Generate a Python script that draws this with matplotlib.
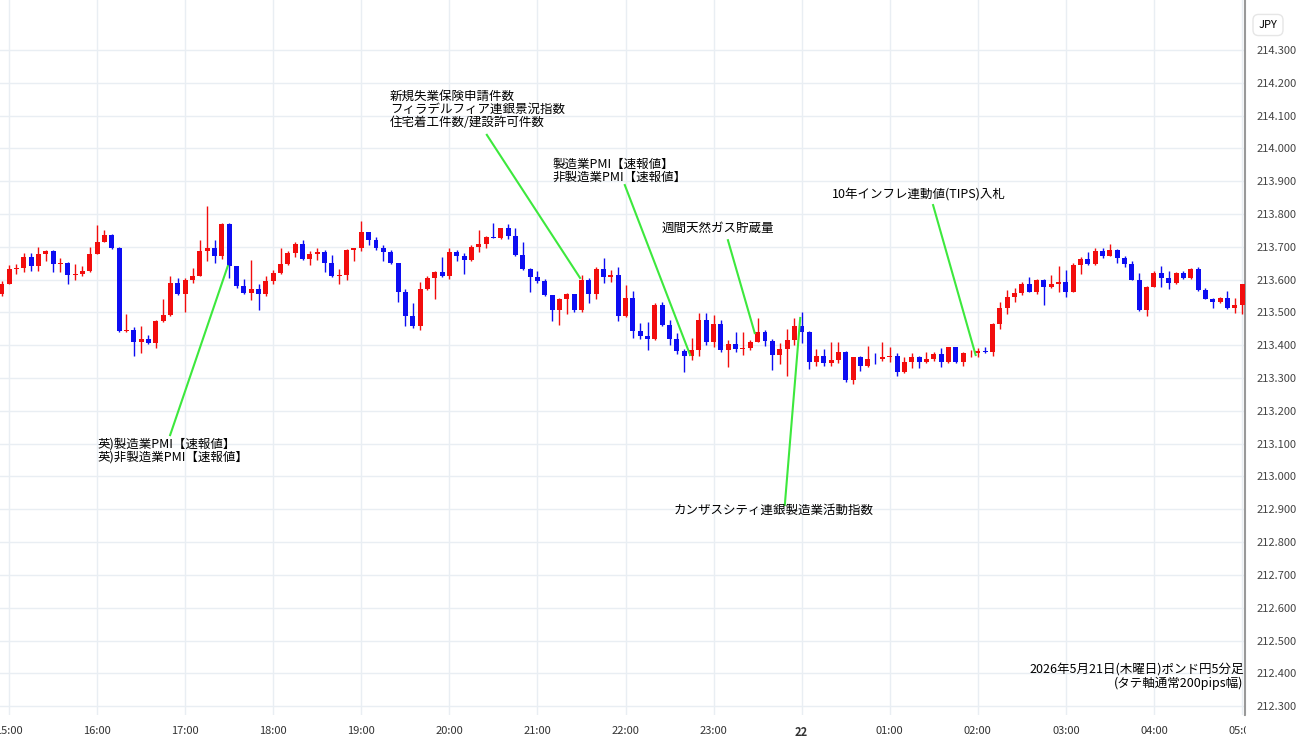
import matplotlib.pyplot as plt
import matplotlib.patches as mpatches
import numpy as np

plt.rcParams['font.family'] = ['Noto Sans CJK JP', 'DejaVu Sans']

# GBP/JPY 5-minute candles, first candle = 14:55
first_open = 213.557
closes = [
    213.588, 213.632, 213.636, 213.670, 213.642, 213.678, 213.687, 213.646, 213.652, 213.615,
    213.618, 213.626, 213.678, 213.715, 213.736, 213.697, 213.443, 213.447, 213.409, 213.420,
    213.407, 213.474, 213.493, 213.590, 213.557, 213.598, 213.611, 213.687, 213.697, 213.672,
    213.770, 213.640, 213.580, 213.560, 213.570, 213.557, 213.595, 213.621, 213.648, 213.680,
    213.707, 213.662, 213.677, 213.685, 213.652, 213.611, 213.615, 213.690, 213.695, 213.744,
    213.720, 213.695, 213.685, 213.649, 213.562, 213.490, 213.458, 213.572, 213.605, 213.623,
    213.611, 213.685, 213.672, 213.659, 213.700, 213.707, 213.731, 213.727, 213.757, 213.734,
    213.675, 213.632, 213.608, 213.596, 213.552, 213.506, 213.542, 213.555, 213.506, 213.600,
    213.555, 213.633, 213.608, 213.615, 213.490, 213.543, 213.443, 213.427, 213.418, 213.523,
    213.462, 213.420, 213.381, 213.367, 213.386, 213.478, 213.411, 213.465, 213.386, 213.403,
    213.388, 213.390, 213.411, 213.440, 213.413, 213.370, 213.388, 213.416, 213.457, 213.440,
    213.350, 213.368, 213.345, 213.355, 213.378, 213.294, 213.363, 213.338, 213.358, 213.357,
    213.365, 213.366, 213.318, 213.349, 213.363, 213.350, 213.358, 213.372, 213.350, 213.393,
    213.348, 213.375, 213.376, 213.383, 213.378, 213.465, 213.512, 213.548, 213.560, 213.585,
    213.563, 213.598, 213.578, 213.585, 213.593, 213.561, 213.644, 213.662, 213.646, 213.687,
    213.673, 213.689, 213.667, 213.646, 213.600, 213.507, 213.578, 213.621, 213.606, 213.590,
    213.621, 213.604, 213.631, 213.568, 213.542, 213.533, 213.543, 213.512, 213.522, 213.585,
]
highs = [
    213.595, 213.643, 213.648, 213.682, 213.681, 213.698, 213.690, 213.690, 213.665, 213.655,
    213.648, 213.641, 213.698, 213.766, 213.751, 213.738, 213.700, 213.496, 213.455, 213.457,
    213.430, 213.476, 213.542, 213.610, 213.604, 213.604, 213.635, 213.720, 213.823, 213.720,
    213.772, 213.772, 213.642, 213.602, 213.661, 213.585, 213.612, 213.628, 213.697, 213.687,
    213.713, 213.722, 213.687, 213.697, 213.690, 213.676, 213.633, 213.692, 213.697, 213.779,
    213.746, 213.730, 213.705, 213.690, 213.650, 213.572, 213.528, 213.593, 213.610, 213.625,
    213.670, 213.697, 213.690, 213.681, 213.705, 213.751, 213.734, 213.772, 213.758, 213.768,
    213.757, 213.716, 213.634, 213.625, 213.603, 213.554, 213.545, 213.560, 213.557, 213.613,
    213.604, 213.638, 213.666, 213.628, 213.638, 213.583, 213.566, 213.468, 213.472, 213.530,
    213.531, 213.477, 213.437, 213.389, 213.423, 213.498, 213.498, 213.493, 213.478, 213.416,
    213.440, 213.440, 213.416, 213.483, 213.447, 213.419, 213.406, 213.450, 213.483, 213.501,
    213.443, 213.389, 213.389, 213.409, 213.409, 213.381, 213.365, 213.368, 213.399, 213.375,
    213.409, 213.393, 213.375, 213.365, 213.375, 213.368, 213.378, 213.378, 213.391, 213.396,
    213.396, 213.378, 213.386, 213.391, 213.396, 213.469, 213.533, 213.567, 213.573, 213.594,
    213.609, 213.601, 213.601, 213.614, 213.642, 213.629, 213.652, 213.670, 213.683, 213.697,
    213.695, 213.707, 213.693, 213.673, 213.656, 213.619, 213.580, 213.626, 213.641, 213.627,
    213.624, 213.627, 213.634, 213.637, 213.573, 213.545, 213.548, 213.566, 213.545, 213.588,
]
lows = [
    213.550, 213.585, 213.617, 213.623, 213.626, 213.626, 213.657, 213.623, 213.623, 213.585,
    213.600, 213.610, 213.624, 213.677, 213.713, 213.693, 213.441, 213.441, 213.366, 213.375,
    213.404, 213.391, 213.472, 213.490, 213.552, 213.502, 213.589, 213.610, 213.657, 213.649,
    213.662, 213.604, 213.573, 213.555, 213.537, 213.506, 213.550, 213.585, 213.618, 213.645,
    213.670, 213.660, 213.645, 213.660, 213.623, 213.608, 213.585, 213.598, 213.657, 213.688,
    213.704, 213.690, 213.657, 213.647, 213.533, 213.459, 213.452, 213.445, 213.568, 213.540,
    213.608, 213.602, 213.657, 213.618, 213.657, 213.684, 213.695, 213.726, 213.724, 213.724,
    213.673, 213.630, 213.561, 213.590, 213.550, 213.475, 213.462, 213.494, 213.500, 213.500,
    213.528, 213.540, 213.589, 213.594, 213.475, 213.485, 213.422, 213.420, 213.384, 213.415,
    213.460, 213.401, 213.373, 213.317, 213.355, 213.368, 213.401, 213.396, 213.380, 213.335,
    213.378, 213.370, 213.386, 213.409, 213.399, 213.324, 213.342, 213.307, 213.401, 213.406,
    213.328, 213.337, 213.337, 213.337, 213.347, 213.288, 213.283, 213.322, 213.335, 213.342,
    213.353, 213.350, 213.306, 213.314, 213.332, 213.329, 213.345, 213.352, 213.335, 213.347,
    213.345, 213.337, 213.365, 213.365, 213.375, 213.368, 213.448, 213.495, 213.533, 213.552,
    213.561, 213.555, 213.524, 213.574, 213.561, 213.548, 213.561, 213.616, 213.645, 213.643,
    213.667, 213.671, 213.650, 213.639, 213.600, 213.505, 213.489, 213.576, 213.576, 213.572,
    213.588, 213.602, 213.602, 213.566, 213.540, 213.513, 213.530, 213.510, 213.497, 213.496,
]
opens = [first_open] + closes[:-1]

hour_labels = ["15:00", "16:00", "17:00", "18:00", "19:00", "20:00", "21:00", "22:00",
               "23:00", "22", "01:00", "02:00", "03:00", "04:00", "05:00"]
y_ticks = [round(212.3 + 0.1 * i, 1) for i in range(21)]

# events: text, text anchor (candle index, price), line start, line end
events = [
    ("英)製造業PMI【速報値】\n英)非製造業PMI【速報値】", (13.1, 213.12), (22.95, 213.126), (30.8, 213.641)),
    ("新規失業保険申請件数\nフィラデルフィア連銀景況指数\n住宅着工件数/建設許可件数", (52.9, 214.178), (66.1, 214.041), (78.8, 213.605)),
    ("製造業PMI【速報値】\n非製造業PMI【速報値】", (75.1, 213.971), (84.9, 213.888), (93.8, 213.37)),
    ("週間天然ガス貯蔵量", (89.96, 213.776), (98.95, 213.72), (102.6, 213.437)),
    ("カンザスシティ連銀製造業活動指数", (91.5, 212.917), (106.7, 212.913), (108.8, 213.483)),
    ("10年インフレ連動値(TIPS)入札", (113.1, 213.879), (126.9, 213.827), (132.7, 213.37)),
]

fig = plt.figure(figsize=(13, 7.45), dpi=100)
ax = fig.add_axes([0, 30 / 745, 1245 / 1300, 715 / 745])

o = np.array(opens)
c = np.array(closes)
x = np.arange(len(c))
up = c >= o
colors = np.where(up, '#f20d0d', '#0d0df2')
ax.vlines(x, lows, highs, colors=colors, lw=1, zorder=2)
body = np.maximum(np.abs(c - o), 0.002)
ax.bar(x, body, bottom=np.minimum(o, c), width=0.68, color=colors, zorder=3)

ax.set_xlim(-0.23, 169.4)
ax.set_ylim(212.273, 214.452)

hour_pos = [1 + 12 * i for i in range(len(hour_labels))]
ax.set_xticks(hour_pos)
ax.set_xticklabels(hour_labels, fontsize=8, color='#333333')
for lbl in ax.get_xticklabels():
    if lbl.get_text() == "22":
        lbl.set_fontweight('bold')
ax.yaxis.tick_right()
ax.set_yticks(y_ticks)
ax.set_yticklabels([f"{v:.3f}" for v in y_ticks], fontsize=8, color='#444444')
ax.tick_params(length=0, pad=8)
ax.grid(True, color='#e9eef3', lw=1, zorder=0)
for s in ['top', 'left', 'bottom']:
    ax.spines[s].set_visible(False)
ax.spines['right'].set_color('#999999')
ax.spines['right'].set_linewidth(1.5)

for text, (tx, ty), (x0, y0), (x1, y1) in events:
    ax.text(tx, ty, text, fontsize=9, va='top', ha='left', linespacing=1.0, zorder=5)
    ax.plot([x0, x1], [y0, y1], color='#3de83d', lw=1.5, zorder=4)

ax.text(169.2, 212.43, "2026年5月21日(木曜日)ポンド円5分足\n(タテ軸通常200pips幅)",
        fontsize=9, ha='right', va='top', linespacing=1.0, zorder=5)

# cover for the right price panel over the clipped last time label
fig.add_artist(mpatches.Rectangle((1246 / 1300, 0), 54 / 1300, 30 / 745,
                                  transform=fig.transFigure, color='white', zorder=10))
fig.text(1268 / 1300, 16 / 745 * 45, "JPY", fontsize=8, ha='center', va='center',
         bbox=dict(boxstyle='round,pad=0.5', fc='white', ec='#e6e6e6'))

fig.savefig('out.png', dpi=100)
